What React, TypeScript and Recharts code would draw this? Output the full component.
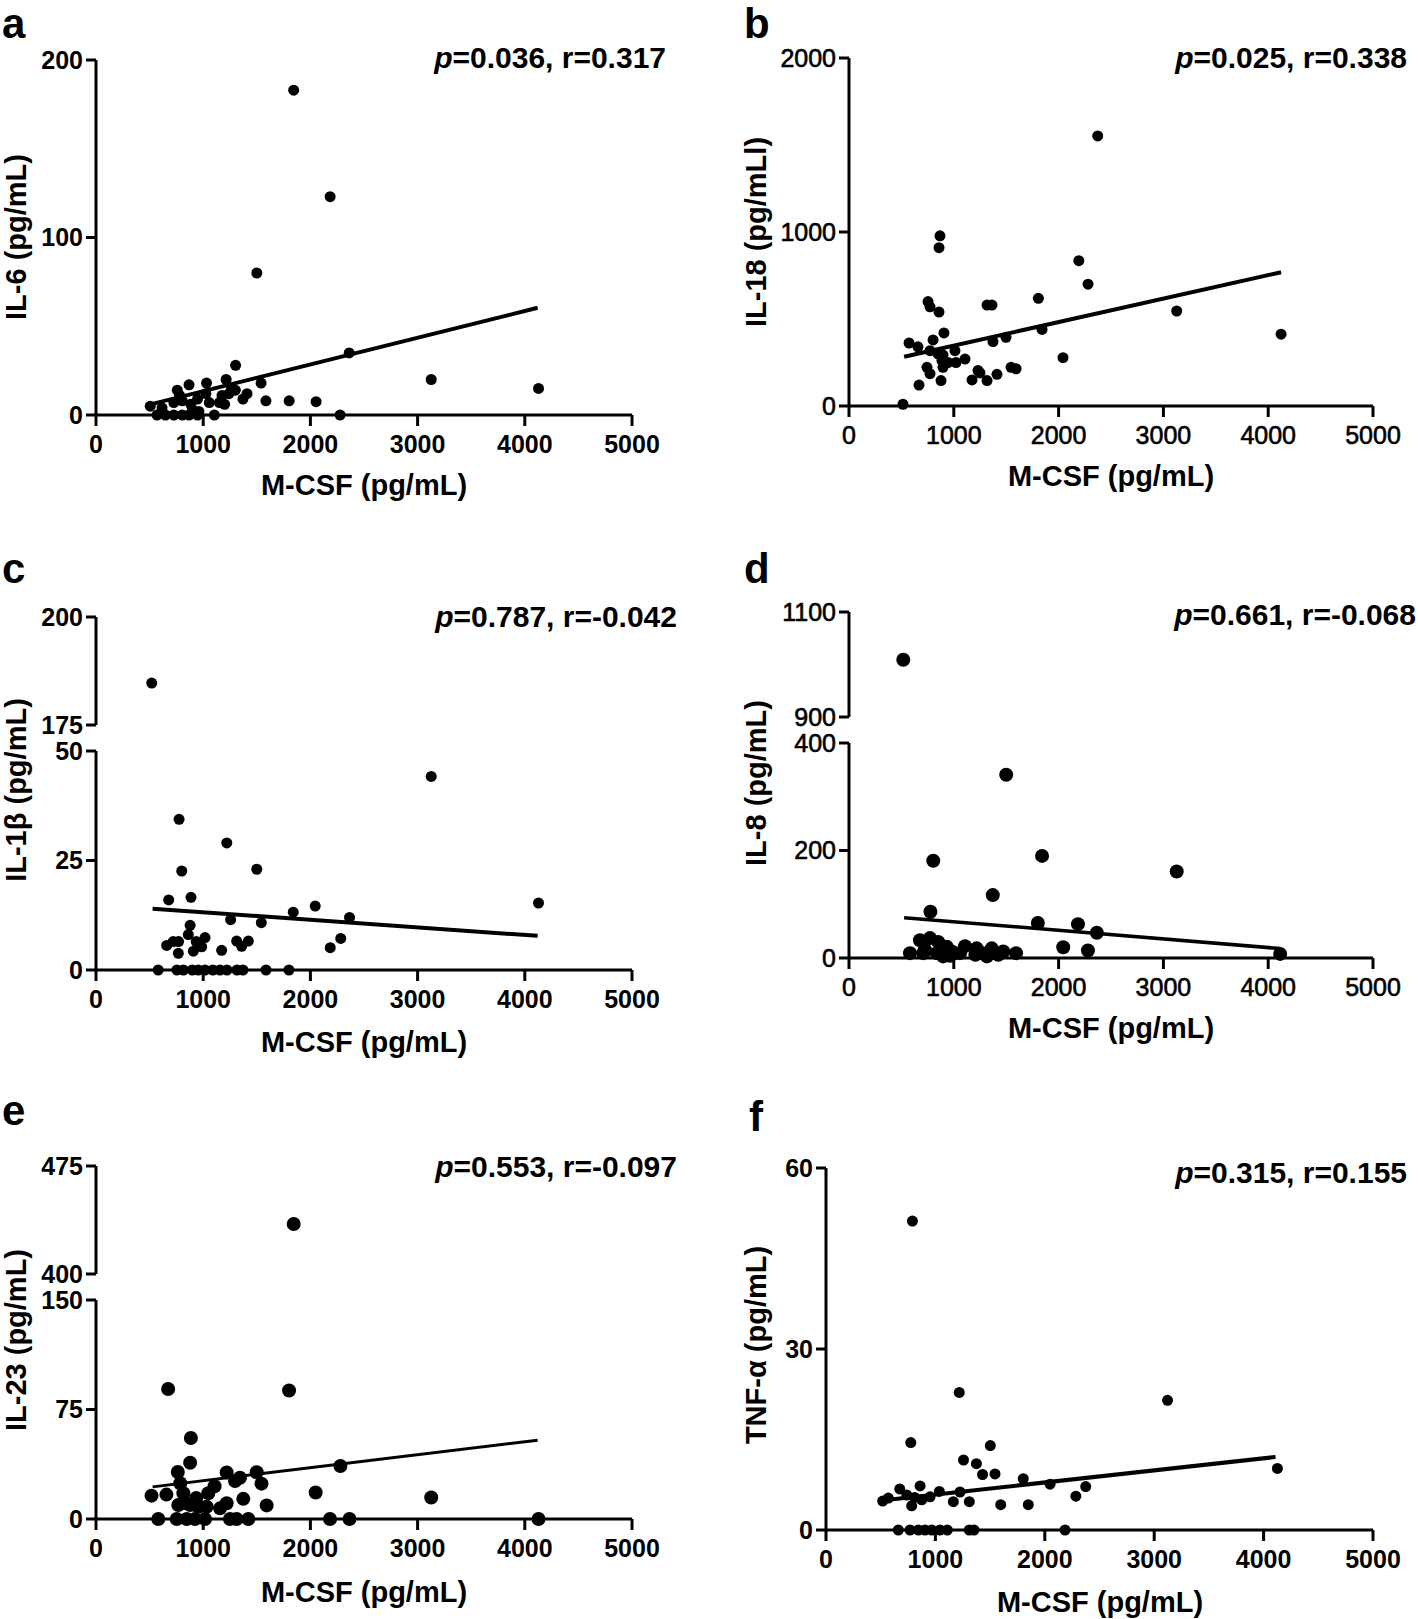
import { ScatterChart, Scatter, XAxis, YAxis } from "recharts";

type Pt = [number, number];

const FONT = "'Liberation Sans', Arial, Helvetica, sans-serif";

const X_TICKS = [0, 1000, 2000, 3000, 4000, 5000];

// [M-CSF, cytokine] pairs
const IL6: Pt[] = [
  [1844, 183], [2184, 123], [1500, 80], [2362, 35], [1302, 28], [3127, 20], [4128, 15],
  [1540, 18], [1214, 20], [868, 17], [1031, 18], [758, 14], [1300, 14], [1240, 12],
  [1265, 15], [1409, 12], [1371, 9], [1585, 8], [1802, 8], [2053, 7.5], [506, 5],
  [616, 4], [726, 7], [805, 8], [884, 6], [947, 9], [1025, 12], [1057, 7], [1151, 7],
  [1175, 11], [1200, 6], [780, 11], [900, 3], [960, 2], [569, 0], [648, 0], [726, 0],
  [805, 0], [868, 0], [947, 0], [1104, 0], [2277, 0],
];
const IL6_FIT: Pt[] = [[536, 6.4], [4120, 60.4]];

const IL18: Pt[] = [
  [2373, 1552], [2193, 835], [2281, 700], [1807, 619], [3127, 546], [4123, 413],
  [868, 978], [859, 910], [754, 600], [773, 570], [859, 540], [1317, 580], [1364, 580],
  [906, 420], [1842, 440], [1498, 395], [1374, 370], [573, 362], [658, 340], [802, 380],
  [773, 318], [849, 300], [1011, 318], [1107, 270], [2042, 278], [887, 262], [945, 250],
  [1021, 250], [744, 222], [897, 222], [773, 186], [878, 146], [668, 120], [1174, 150],
  [1231, 204], [1250, 190], [1317, 146], [1412, 182], [1546, 222], [1594, 214], [897, 293],
  [515, 10],
];
const IL18_FIT: Pt[] = [[526, 283], [4123, 769]];

const IL1B: Pt[] = [
  [520, 184.7], [3127, 44.2], [775, 34.4], [1220, 29], [800, 22.6], [1500, 23],
  [886, 16.6], [678, 16], [2045, 14.6], [4128, 15.3], [1840, 13.2], [2365, 12],
  [1256, 11.5], [1542, 10.8], [878, 10.2], [861, 8.1], [2283, 7.2], [2185, 5.1],
  [659, 5.6], [1017, 7.4], [1312, 6.6], [1421, 6.6], [1359, 5.4], [720, 6.5], [770, 6.5],
  [768, 3.8], [908, 4.3], [1172, 4.5], [986, 5.3], [935, 6.5], [580, 0], [755, 0], [815, 0],
  [898, 0], [954, 0], [1017, 0], [1090, 0], [1157, 0], [1222, 0], [1315, 0], [1371, 0],
  [1586, 0], [1800, 0],
];
const IL1B_FIT: Pt[] = [[528, 14], [4120, 7.8]];

const IL8: Pt[] = [
  [518, 1009], [1500, 341], [1842, 190], [804, 181], [3127, 161], [1372, 117], [777, 86],
  [1802, 65], [2185, 63], [2365, 47], [2044, 20], [2280, 14], [4114, 7.6], [677, 33],
  [773, 37], [852, 30], [582, 9], [724, 16], [899, 3], [1009, 9], [1107, 22], [1218, 18],
  [1272, 9], [1362, 18], [1425, 6], [1472, 12], [1594, 9], [1206, 6], [1316, 3], [932, 21],
  [980, 12], [709, 9], [837, 9], [1059, 9], [965, 4],
];
const IL8_FIT: Pt[] = [[526, 75], [4114, 17.6]];

const IL23: Pt[] = [
  [1844, 434.7], [673, 89], [1801, 88], [885, 55.5], [878, 38.5], [2280, 36.3],
  [763, 32.2], [1219, 31.8], [1499, 32], [1343, 28.3], [1297, 26], [1544, 24.2],
  [1106, 22.4], [786, 24.5], [2049, 18.2], [518, 16], [657, 16.7], [3127, 14.7],
  [1374, 13.8], [1592, 9.3], [815, 17.6], [830, 11], [935, 14.3], [1048, 17.6], [1032, 8.4],
  [1157, 7.3], [1219, 10.8], [877, 9.6], [954, 8.4], [768, 9.6], [581, 0], [753, 0],
  [846, 0], [923, 0], [1017, 0], [1250, 0], [1312, 0], [1421, 0], [2183, 0], [2365, 0],
  [4128, 0],
];
const IL23_FIT: Pt[] = [[528, 22], [4120, 54]];

const TNF: Pt[] = [
  [790, 51.2], [1218, 22.8], [3122, 21.5], [775, 14.5], [1502, 14], [1257, 11.6],
  [1375, 11], [4126, 10.2], [1431, 9.2], [1545, 9.3], [1803, 8.5], [2048, 7.6], [2374, 7.2],
  [2284, 5.6], [860, 7.3], [674, 6.8], [1036, 6.4], [1225, 6.3], [518, 4.8], [570, 5.3],
  [738, 5.8], [875, 5], [951, 5.5], [783, 4], [1164, 4.7], [1310, 4.7], [1597, 4.2],
  [1849, 4.2], [811, 5.4], [661, 0], [768, 0], [844, 0], [905, 0], [966, 0], [1042, 0],
  [1109, 0], [1310, 0], [1353, 0], [2185, 0],
];
const TNF_FIT: Pt[] = [[508, 4.9], [4109, 12.1]];

interface Seg {
  left: number;
  right: number;
  top: number;
  bottom: number;
  domain: [number, number];
  ticks: number[];
  showX: boolean;
  withFit: boolean;
}

interface Panel {
  letter: string;
  lx: number;
  ly: number;
  stat: string;
  ax: number;
  ay: number;
  ylabel: string;
  ytx: number;
  yty: number;
  xtx: number;
  xty: number;
  points: Pt[];
  fit: Pt[];
  r: number;
  lineW: number;
  boldTicks: boolean;
  segs: Seg[];
}

const PANELS: Panel[] = [
  {
    letter: "a", lx: 2, ly: 38, stat: "=0.036, r=0.317", ax: 666, ay: 68,
    ylabel: "IL-6 (pg/mL)", ytx: 26, yty: 237, xtx: 364, xty: 495,
    points: IL6, fit: IL6_FIT, r: 5.5, lineW: 4, boldTicks: true,
    segs: [{ left: 96, right: 632, top: 60, bottom: 415, domain: [0, 200], ticks: [0, 100, 200], showX: true, withFit: true }],
  },
  {
    letter: "b", lx: 744, ly: 38, stat: "=0.025, r=0.338", ax: 1407, ay: 68,
    ylabel: "IL-18 (pg/mLl)", ytx: 766, yty: 232, xtx: 1111, xty: 486,
    points: IL18, fit: IL18_FIT, r: 5.5, lineW: 4, boldTicks: false,
    segs: [{ left: 849, right: 1373, top: 58, bottom: 406, domain: [0, 2000], ticks: [0, 1000, 2000], showX: true, withFit: true }],
  },
  {
    letter: "c", lx: 2, ly: 583, stat: "=0.787, r=-0.042", ax: 677, ay: 627,
    ylabel: "IL-1β (pg/mL)", ytx: 26, yty: 790, xtx: 364, xty: 1052,
    points: IL1B, fit: IL1B_FIT, r: 5.5, lineW: 4, boldTicks: true,
    segs: [
      { left: 96, right: 632, top: 617, bottom: 725, domain: [175, 200], ticks: [175, 200], showX: false, withFit: false },
      { left: 96, right: 632, top: 751, bottom: 970, domain: [0, 50], ticks: [0, 25, 50], showX: true, withFit: true },
    ],
  },
  {
    letter: "d", lx: 744, ly: 583, stat: "=0.661, r=-0.068", ax: 1416, ay: 625,
    ylabel: "IL-8 (pg/mL)", ytx: 766, yty: 783, xtx: 1111, xty: 1038,
    points: IL8, fit: IL8_FIT, r: 7, lineW: 3.5, boldTicks: false,
    segs: [
      { left: 849, right: 1373, top: 612, bottom: 717, domain: [900, 1100], ticks: [900, 1100], showX: false, withFit: false },
      { left: 849, right: 1373, top: 743, bottom: 958, domain: [0, 400], ticks: [0, 200, 400], showX: true, withFit: true },
    ],
  },
  {
    letter: "e", lx: 2, ly: 1125, stat: "=0.553, r=-0.097", ax: 677, ay: 1177,
    ylabel: "IL-23 (pg/mL)", ytx: 26, yty: 1340, xtx: 364, xty: 1602,
    points: IL23, fit: IL23_FIT, r: 7, lineW: 3, boldTicks: true,
    segs: [
      { left: 96, right: 632, top: 1166, bottom: 1274, domain: [400, 475], ticks: [400, 475], showX: false, withFit: false },
      { left: 96, right: 632, top: 1300, bottom: 1519, domain: [0, 150], ticks: [0, 75, 150], showX: true, withFit: true },
    ],
  },
  {
    letter: "f", lx: 749, ly: 1131, stat: "=0.315, r=0.155", ax: 1407, ay: 1183,
    ylabel: "TNF-α (pg/mL)", ytx: 766, yty: 1345, xtx: 1100, xty: 1612,
    points: TNF, fit: TNF_FIT, r: 5.5, lineW: 4, boldTicks: true,
    segs: [{ left: 826, right: 1373, top: 1168, bottom: 1530, domain: [0, 60], ticks: [0, 30, 60], showX: true, withFit: true }],
  },
];

function Segment({ seg, panel }: { seg: Seg; panel: Panel }) {
  const padL = 70;
  const padR = 45;
  const padT = 30;
  const padB = 25;
  const xH = seg.showX ? 50 : 0;
  const w = seg.right - seg.left + padL + padR;
  const h = seg.bottom - seg.top + padT + xH + padB;
  const [lo, hi] = seg.domain;
  const pts = panel.points
    .filter(([, y]) => y >= lo && y <= hi)
    .map(([x, y]) => ({ x, y }));
  const fit = panel.fit.map(([x, y]) => ({ x, y }));
  const tick = {
    fill: "#000",
    fontSize: 25,
    fontFamily: FONT,
    fontWeight: panel.boldTicks ? 700 : 400,
    stroke: panel.boldTicks ? "none" : "#000",
    strokeWidth: panel.boldTicks ? 0 : 0.6,
  };
  const axisStroke = { stroke: "#000", strokeWidth: 3 };
  return (
    <div style={{ position: "absolute", left: seg.left - padL, top: seg.top - padT }}>
      <ScatterChart width={w} height={h} margin={{ top: padT, right: padR, bottom: padB, left: 10 }}>
        <XAxis
          type="number"
          dataKey="x"
          domain={[0, 5000]}
          ticks={X_TICKS}
          interval={0}
          hide={!seg.showX}
          height={xH}
          axisLine={axisStroke}
          tickLine={axisStroke}
          tickSize={11}
          tickMargin={9}
          tick={tick}
        />
        <YAxis
          type="number"
          dataKey="y"
          domain={seg.domain}
          ticks={seg.ticks}
          interval={0}
          width={60}
          axisLine={axisStroke}
          tickLine={axisStroke}
          tickSize={10}
          tickMargin={3}
          tick={tick}
        />
        <Scatter
          data={pts}
          isAnimationActive={false}
          shape={(props: any) => <circle cx={props.cx} cy={props.cy} r={panel.r} fill="#000" />}
        />
        {seg.withFit && (
          <Scatter
            data={fit}
            isAnimationActive={false}
            line={{ stroke: "#000", strokeWidth: panel.lineW }}
            shape={() => <g />}
          />
        )}
      </ScatterChart>
    </div>
  );
}

export default function App() {
  return (
    <div
      style={{
        position: "absolute",
        left: 0,
        top: 0,
        width: 1418,
        height: 1619,
        background: "#fff",
        fontFamily: FONT,
      }}
    >
      {PANELS.map((p) =>
        p.segs.map((s, i) => <Segment key={p.letter + i} seg={s} panel={p} />)
      )}
      <svg
        width={1418}
        height={1619}
        style={{ position: "absolute", left: 0, top: 0, pointerEvents: "none" }}
      >
        {PANELS.map((p) => (
          <g key={p.letter} fontFamily={FONT} fontWeight={700} fill="#000">
            <text x={p.lx} y={p.ly} fontSize={42}>
              {p.letter}
            </text>
            <text x={p.ax} y={p.ay} fontSize={30} textAnchor="end">
              <tspan fontStyle="italic">p</tspan>
              {p.stat}
            </text>
            <text x={p.xtx} y={p.xty} fontSize={29} textAnchor="middle">
              M-CSF (pg/mL)
            </text>
            <text
              transform={`translate(${p.ytx},${p.yty}) rotate(-90)`}
              fontSize={29}
              textAnchor="middle"
            >
              {p.ylabel}
            </text>
          </g>
        ))}
      </svg>
    </div>
  );
}
